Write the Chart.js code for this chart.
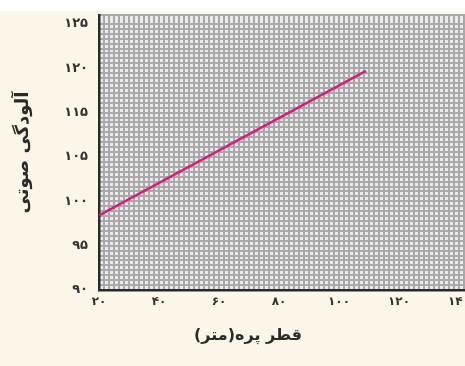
<!DOCTYPE html>
<html>
<head>
<meta charset="utf-8">
<script src="https://cdn.jsdelivr.net/npm/chart.js@4/dist/chart.umd.min.js"></script>
<style>
  html, body { margin: 0; padding: 0; background: #ffffff; overflow: hidden; width: 465px; height: 366px; }
  #wrap { position: absolute; left: 0; top: 11px; width: 489px; height: 355px; background: #fcf7e8; }
</style>
</head>
<body>
<div id="wrap"><canvas id="noiseChart" width="489" height="355"></canvas></div>
<script>
// tick values on the scales and the labels printed beside them
const xTickValues = [20, 40, 60, 80, 100, 120, 140];
const xTickLabels = ['۲۰', '۴۰', '۶۰', '۸۰', '۱۰۰', '۱۲۰', '۱۴۰'];
const yTickValues = [90, 95, 100, 105, 110, 115, 120];
const yTickLabels = ['۹۰', '۹۵', '۱۰۰', '۱۰۵', '۱۱۵', '۱۲۰', '۱۲۵'];

// line: blade diameter vs noise
const bladeDiameter = [20, 109];
const noiseLevel = [98.4, 114.7];

const xTitle = 'قطر پره(متر)';
const yTitle = 'آلودگی صوتی';

const tickFont = { family: 'DejaVu Sans', size: 12, weight: 'bold' };
const gridColor = '#a9a9a9';

const points = bladeDiameter.map(function (x, i) {
    return { x: x, y: noiseLevel[i] };
});

const areaBackground = {
    id: 'areaBackground',
    beforeDraw: function (chart) {
        const a = chart.chartArea;
        const c = chart.ctx;
        c.save();
        c.fillStyle = '#ebebeb';
        c.fillRect(a.left, a.top, a.right - a.left, a.bottom - a.top);
        c.restore();
    }
};

const xTitlePlugin = {
    id: 'xTitlePlugin',
    afterDraw: function (chart) {
        const c = chart.ctx;
        c.save();
        c.font = 'bold 16px "DejaVu Sans"';
        c.fillStyle = '#2b2b2b';
        c.textAlign = 'center';
        c.textBaseline = 'middle';
        c.fillText(xTitle, chart.chartArea.left + 149, chart.chartArea.bottom + 46);
        c.restore();
    }
};

function fixedWidth(w) {
    return function (scale) { scale.width = w; scale.paddingTop = 0; scale.paddingBottom = 0; };
}
function fixedHeight(h) {
    return function (scale) { scale.height = h; scale.paddingLeft = 0; scale.paddingRight = 0; };
}

new Chart(document.getElementById('noiseChart'), {
    type: 'scatter',
    data: {
        datasets: [{
            data: points,
            showLine: true,
            borderColor: '#dc1a7c',
            borderWidth: 2.5,
            pointRadius: 0,
            fill: false
        }]
    },
    options: {
        responsive: false,
        animation: false,
        events: [],
        layout: { padding: { top: 4, right: 0, left: 0, bottom: 0 } },
        plugins: { legend: { display: false }, tooltip: { enabled: false } },
        scales: {
            x: {
                type: 'linear',
                position: 'bottom',
                min: 20,
                max: 150,
                afterBuildTicks: function (scale) {
                    scale.ticks = xTickValues.map(function (v) { return { value: v }; });
                },
                ticks: {
                    font: tickFont,
                    color: '#333333',
                    padding: 5,
                    maxRotation: 0,
                    autoSkip: false,
                    callback: function (value) {
                        const i = xTickValues.indexOf(value);
                        return i >= 0 ? xTickLabels[i] : '';
                    }
                },
                grid: { display: false, drawTicks: false },
                border: { display: true, color: '#2a2a2a', width: 2.5 },
                afterFit: fixedHeight(76)
            },
            y: {
                type: 'linear',
                position: 'left',
                min: 90,
                max: 121,
                afterBuildTicks: function (scale) {
                    scale.ticks = yTickValues.map(function (v) { return { value: v }; });
                },
                ticks: {
                    font: { family: 'DejaVu Sans', size: 13, weight: 'bold' },
                    color: '#333333',
                    padding: 11,
                    autoSkip: false,
                    callback: function (value) {
                        const i = yTickValues.indexOf(value);
                        return i >= 0 ? yTickLabels[i] : '';
                    }
                },
                title: {
                    display: true,
                    text: yTitle,
                    color: '#2b2b2b',
                    font: { family: 'DejaVu Sans', size: 18, weight: 'bold' },
                    padding: { top: 13, bottom: 0 }
                },
                grid: { display: false, drawTicks: false },
                border: { display: true, color: '#2a2a2a', width: 2.5 },
                afterFit: fixedWidth(99)
            },
            xMinor: {
                type: 'linear',
                position: 'bottom',
                min: 20,
                max: 150,
                ticks: { display: false, stepSize: 5 / 3, maxTicksLimit: 1000, autoSkip: false },
                grid: { display: true, color: gridColor, lineWidth: 2, drawTicks: false },
                border: { display: false },
                afterFit: fixedHeight(0)
            },
            yMinor: {
                type: 'linear',
                position: 'left',
                min: 90,
                max: 121,
                ticks: { display: false, stepSize: 5 / 9, maxTicksLimit: 1000, autoSkip: false },
                grid: { display: true, color: gridColor, lineWidth: 2, drawTicks: false },
                border: { display: false },
                afterFit: fixedWidth(0)
            }
        }
    },
    plugins: [areaBackground, xTitlePlugin]
});
</script>
</body>
</html>
